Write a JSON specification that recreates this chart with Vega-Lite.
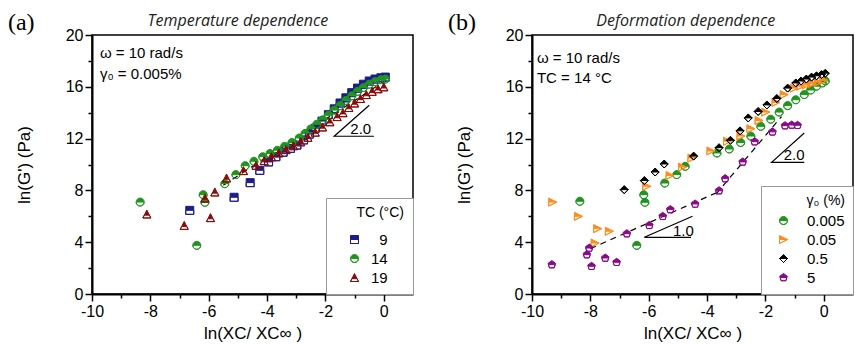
{
  "$schema": "https://vega.github.io/schema/vega-lite/v6.json",
  "padding": {"left": 7, "top": 10, "right": 0, "bottom": 0},
  "background": "white",
  "bounds": "flush",
  "spacing": 119,
  "resolve": {"scale": {"x": "independent", "y": "independent", "fill": "independent", "stroke": "independent", "shape": "independent"}},
  "datasets": {
    "L": [
      {"x": -6.65, "y": 6.46, "s": "9"}, {"x": -5.13, "y": 7.47, "s": "9"}, {"x": -4.58, "y": 8.6, "s": "9"}, {"x": -4.25, "y": 9.55, "s": "9"},
      {"x": -3.95, "y": 10.2, "s": "9"}, {"x": -3.7, "y": 10.6, "s": "9"}, {"x": -3.45, "y": 10.95, "s": "9"}, {"x": -3.2, "y": 11.25, "s": "9"},
      {"x": -2.98, "y": 11.5, "s": "9"}, {"x": -2.75, "y": 11.9, "s": "9"}, {"x": -2.55, "y": 12.35, "s": "9"}, {"x": -2.35, "y": 12.8, "s": "9"},
      {"x": -2.12, "y": 13.35, "s": "9"}, {"x": -1.9, "y": 13.85, "s": "9"}, {"x": -1.7, "y": 14.3, "s": "9"}, {"x": -1.5, "y": 14.75, "s": "9"},
      {"x": -1.3, "y": 15.15, "s": "9"}, {"x": -1.1, "y": 15.55, "s": "9"}, {"x": -0.9, "y": 15.9, "s": "9"}, {"x": -0.7, "y": 16.2, "s": "9"},
      {"x": -0.5, "y": 16.45, "s": "9"}, {"x": -0.3, "y": 16.6, "s": "9"}, {"x": -0.1, "y": 16.7, "s": "9"}, {"x": 0.05, "y": 16.75, "s": "9"},
      {"x": -8.35, "y": 7.1, "s": "14"}, {"x": -6.41, "y": 3.76, "s": "14"}, {"x": -6.19, "y": 7.67, "s": "14"}, {"x": -6.13, "y": 7.08, "s": "14"},
      {"x": -5.45, "y": 8.52, "s": "14"}, {"x": -5.07, "y": 9.22, "s": "14"}, {"x": -4.75, "y": 9.91, "s": "14"}, {"x": -4.45, "y": 10.25, "s": "14"},
      {"x": -4.15, "y": 10.6, "s": "14"}, {"x": -3.9, "y": 10.85, "s": "14"}, {"x": -3.65, "y": 11.1, "s": "14"}, {"x": -3.4, "y": 11.4, "s": "14"},
      {"x": -3.15, "y": 11.7, "s": "14"}, {"x": -2.9, "y": 12.05, "s": "14"}, {"x": -2.7, "y": 12.4, "s": "14"}, {"x": -2.5, "y": 12.75, "s": "14"},
      {"x": -2.3, "y": 13.1, "s": "14"}, {"x": -2.1, "y": 13.45, "s": "14"}, {"x": -1.9, "y": 13.8, "s": "14"}, {"x": -1.7, "y": 14.2, "s": "14"},
      {"x": -1.5, "y": 14.55, "s": "14"}, {"x": -1.3, "y": 14.95, "s": "14"}, {"x": -1.1, "y": 15.3, "s": "14"}, {"x": -0.9, "y": 15.65, "s": "14"},
      {"x": -0.7, "y": 15.95, "s": "14"}, {"x": -0.5, "y": 16.2, "s": "14"}, {"x": -0.3, "y": 16.4, "s": "14"}, {"x": -0.1, "y": 16.55, "s": "14"},
      {"x": 0.05, "y": 16.6, "s": "14"},
      {"x": -8.12, "y": 6.18, "s": "19"}, {"x": -6.84, "y": 5.3, "s": "19"}, {"x": -6.13, "y": 7.41, "s": "19"}, {"x": -5.94, "y": 5.9, "s": "19"},
      {"x": -5.79, "y": 7.88, "s": "19"}, {"x": -5.39, "y": 8.96, "s": "19"}, {"x": -4.81, "y": 9.53, "s": "19"}, {"x": -4.38, "y": 9.94, "s": "19"},
      {"x": -4.1, "y": 10.3, "s": "19"}, {"x": -3.85, "y": 10.6, "s": "19"}, {"x": -3.6, "y": 10.9, "s": "19"}, {"x": -3.35, "y": 11.15, "s": "19"},
      {"x": -3.1, "y": 11.45, "s": "19"}, {"x": -2.85, "y": 11.75, "s": "19"}, {"x": -2.6, "y": 12.1, "s": "19"}, {"x": -2.35, "y": 12.5, "s": "19"},
      {"x": -2.1, "y": 12.9, "s": "19"}, {"x": -1.85, "y": 13.3, "s": "19"}, {"x": -1.6, "y": 13.7, "s": "19"}, {"x": -1.4, "y": 14.0, "s": "19"},
      {"x": -1.2, "y": 14.4, "s": "19"}, {"x": -1.0, "y": 14.75, "s": "19"}, {"x": -0.8, "y": 15.1, "s": "19"}, {"x": -0.6, "y": 15.4, "s": "19"},
      {"x": -0.4, "y": 15.65, "s": "19"}, {"x": -0.2, "y": 15.85, "s": "19"}, {"x": 0.0, "y": 16.0, "s": "19"}
    ],
    "R": [
      {"x": -8.36, "y": 7.16, "s": "0.005"}, {"x": -6.41, "y": 3.76, "s": "0.005"}, {"x": -6.17, "y": 7.67, "s": "0.005"}, {"x": -6.13, "y": 7.08, "s": "0.005"},
      {"x": -5.45, "y": 8.57, "s": "0.005"}, {"x": -5.04, "y": 9.22, "s": "0.005"}, {"x": -4.75, "y": 9.86, "s": "0.005"}, {"x": -3.66, "y": 10.89, "s": "0.005"},
      {"x": -3.24, "y": 11.2, "s": "0.005"}, {"x": -2.85, "y": 11.7, "s": "0.005"}, {"x": -2.5, "y": 12.2, "s": "0.005"}, {"x": -2.16, "y": 12.95, "s": "0.005"},
      {"x": -1.82, "y": 13.5, "s": "0.005"}, {"x": -1.53, "y": 14.05, "s": "0.005"}, {"x": -1.24, "y": 14.55, "s": "0.005"}, {"x": -0.96, "y": 15.0, "s": "0.005"},
      {"x": -0.67, "y": 15.4, "s": "0.005"}, {"x": -0.45, "y": 15.75, "s": "0.005"}, {"x": -0.25, "y": 16.05, "s": "0.005"}, {"x": -0.05, "y": 16.3, "s": "0.005"},
      {"x": 0.05, "y": 16.45, "s": "0.005"},
      {"x": -9.29, "y": 7.1, "s": "0.05"}, {"x": -8.41, "y": 6.0, "s": "0.05"}, {"x": -7.84, "y": 3.94, "s": "0.05"}, {"x": -7.75, "y": 5.05, "s": "0.05"},
      {"x": -7.35, "y": 4.85, "s": "0.05"}, {"x": -6.07, "y": 8.32, "s": "0.05"}, {"x": -5.27, "y": 9.15, "s": "0.05"}, {"x": -4.84, "y": 9.8, "s": "0.05"},
      {"x": -4.52, "y": 10.5, "s": "0.05"}, {"x": -3.87, "y": 11.05, "s": "0.05"}, {"x": -3.3, "y": 11.8, "s": "0.05"}, {"x": -2.84, "y": 12.2, "s": "0.05"},
      {"x": -2.5, "y": 12.77, "s": "0.05"}, {"x": -2.22, "y": 13.4, "s": "0.05"}, {"x": -1.99, "y": 14.05, "s": "0.05"}, {"x": -1.64, "y": 14.8, "s": "0.05"},
      {"x": -1.36, "y": 15.4, "s": "0.05"}, {"x": -1.02, "y": 15.9, "s": "0.05"}, {"x": -0.8, "y": 16.05, "s": "0.05"}, {"x": -0.6, "y": 16.15, "s": "0.05"},
      {"x": -0.4, "y": 16.25, "s": "0.05"}, {"x": -0.2, "y": 16.35, "s": "0.05"}, {"x": 0.0, "y": 16.5, "s": "0.05"},
      {"x": -6.84, "y": 8.06, "s": "0.5"}, {"x": -6.15, "y": 8.76, "s": "0.5"}, {"x": -5.78, "y": 9.42, "s": "0.5"}, {"x": -5.47, "y": 10.04, "s": "0.5"},
      {"x": -4.46, "y": 10.65, "s": "0.5"}, {"x": -3.59, "y": 11.3, "s": "0.5"}, {"x": -3.2, "y": 11.87, "s": "0.5"}, {"x": -2.87, "y": 12.6, "s": "0.5"},
      {"x": -2.59, "y": 13.6, "s": "0.5"}, {"x": -2.25, "y": 14.1, "s": "0.5"}, {"x": -1.95, "y": 14.6, "s": "0.5"}, {"x": -1.61, "y": 15.1, "s": "0.5"},
      {"x": -1.24, "y": 15.9, "s": "0.5"}, {"x": -0.96, "y": 16.3, "s": "0.5"}, {"x": -0.78, "y": 16.45, "s": "0.5"}, {"x": -0.6, "y": 16.6, "s": "0.5"},
      {"x": -0.42, "y": 16.75, "s": "0.5"}, {"x": -0.25, "y": 16.85, "s": "0.5"}, {"x": -0.08, "y": 16.95, "s": "0.5"}, {"x": 0.05, "y": 17.05, "s": "0.5"},
      {"x": -9.32, "y": 2.27, "s": "5"}, {"x": -8.12, "y": 3.04, "s": "5"}, {"x": -8.04, "y": 3.55, "s": "5"}, {"x": -7.96, "y": 2.14, "s": "5"},
      {"x": -7.49, "y": 2.78, "s": "5"}, {"x": -7.1, "y": 2.45, "s": "5"}, {"x": -6.75, "y": 4.66, "s": "5"}, {"x": -5.98, "y": 5.3, "s": "5"},
      {"x": -5.52, "y": 6.0, "s": "5"}, {"x": -5.26, "y": 6.52, "s": "5"}, {"x": -4.41, "y": 6.95, "s": "5"}, {"x": -3.59, "y": 7.98, "s": "5"},
      {"x": -3.38, "y": 8.91, "s": "5"}, {"x": -2.78, "y": 10.2, "s": "5"}, {"x": -2.37, "y": 11.76, "s": "5"}, {"x": -1.76, "y": 12.52, "s": "5"},
      {"x": -1.33, "y": 13.0, "s": "5"}, {"x": -1.1, "y": 13.05, "s": "5"}, {"x": -0.9, "y": 13.03, "s": "5"}
    ]
  },
  "hconcat": [
    {
      "width": 321,
      "height": 259,
      "encoding": {
        "x": {"field": "x", "type": "quantitative", "title": "ln(XC/ XC∞ )",
          "scale": {"domain": [-10, 1], "nice": false, "zero": false},
          "axis": {"values": [-10, -9, -8, -7, -6, -5, -4, -3, -2, -1, 0], "labelExpr": "datum.value % 2 === 0 ? '' + datum.value : ''",
            "tickSize": {"condition": {"test": "datum.value % 2 !== 0", "value": 4}, "value": 7}, "labelPadding": 2, "titlePadding": 6, "labelFlush": false, "labelOverlap": false}},
        "y": {"field": "y", "type": "quantitative", "title": "ln(G') (Pa)",
          "scale": {"domain": [0, 20], "nice": false, "zero": false},
          "axis": {"values": [0, 2, 4, 6, 8, 10, 12, 14, 16, 18, 20], "labelExpr": "datum.value % 4 === 0 ? '' + datum.value : ''",
            "tickSize": {"condition": {"test": "datum.value % 4 !== 0", "value": 4}, "value": 7}, "labelPadding": 2, "titlePadding": 32, "labelFlush": false, "labelOverlap": false}}
      },
      "layer": [
        {
          "data": {"values": [{"x": -5.5, "y": 8.4, "g": 1}, {"x": 0.0, "y": 16.4, "g": 1}]},
          "mark": {"type": "line", "color": "black", "strokeWidth": 1.2, "strokeDash": [6, 5]},
          "encoding": {"detail": {"field": "g"}}
        },
        {
          "data": {"name": "L"},
          "mark": {"type": "point", "filled": true, "size": 64, "opacity": 1, "strokeWidth": 1},
          "encoding": {
            "fill": {"field": "s", "type": "nominal", "scale": {"domain": ["9", "14", "19"], "range": ["#1c1c8a", "#1f951f", "#8b0a0a"]},
              "legend": {"title": "TC (°C)", "titlePadding": 12, "titleAnchor": "end", "symbolOffset": 13, "labelOffset": 9, "labelExpr": "(datum.label == '9' ? '\u200b\u00a0\u00a0' : '') + datum.label + '\u00a0\u00a0\u00a0\u00a0\u200b'"}},
            "stroke": {"field": "s", "type": "nominal", "scale": {"domain": ["9", "14", "19"], "range": ["#1c1c8a", "#1f951f", "#8b0a0a"]},
              "legend": {"title": "TC (°C)", "titlePadding": 12, "titleAnchor": "end", "symbolOffset": 13, "labelOffset": 9, "labelExpr": "(datum.label == '9' ? '\u200b\u00a0\u00a0' : '') + datum.label + '\u00a0\u00a0\u00a0\u00a0\u200b'"}},
            "shape": {"field": "s", "type": "nominal",
              "scale": {"domain": ["9", "14", "19"], "range": [
                "M-1,-1H1V0H-1Z M-1,0V1H1V0V1H-1Z",
                "M-1,0A1,1 0 0 1 1,0Z M-1,0A1,1 0 0 0 1,0A1,1 0 0 1 -1,0Z",
                "M0,-1L0.65,0.3L-0.65,0.3Z M-0.65,0.3L-1,1L1,1L0.65,0.3L1,1L-1,1Z"]},
              "legend": {"title": "TC (°C)", "titlePadding": 12, "titleAnchor": "end", "symbolOffset": 13, "labelOffset": 9, "labelExpr": "(datum.label == '9' ? '\u200b\u00a0\u00a0' : '') + datum.label + '\u00a0\u00a0\u00a0\u00a0\u200b'"}}
          }
        },
        {
          "data": {"values": [{"x": -0.5, "y": 14.57, "o": 1}, {"x": -1.7, "y": 12.18, "o": 2}, {"x": -0.34, "y": 12.18, "o": 3}]},
          "mark": {"type": "line", "color": "black", "strokeWidth": 1.2},
          "encoding": {"order": {"field": "o", "type": "quantitative"}}
        },
        {
          "data": {"values": [{"x": -0.79, "y": 12.75, "t": "2.0"}]},
          "mark": {"type": "text", "font": "Liberation Sans", "fontSize": 15, "color": "black", "align": "center", "baseline": "middle"},
          "encoding": {"text": {"field": "t"}}
        },
        {
          "data": {"values": [{"x": -9.73, "y": 18.6, "t": "ω = 10 rad/s"}, {"x": -9.73, "y": 17.0, "t": "γ₀ = 0.005%"}]},
          "mark": {"type": "text", "font": "Liberation Sans", "fontSize": 15, "color": "black", "align": "left", "baseline": "middle"},
          "encoding": {"text": {"field": "t"}}
        },
        {
          "data": {"values": [{"x": -5.0, "y": 21.08, "t": "Temperature dependence"}]},
          "mark": {"type": "text", "font": "Open Sans", "fontStyle": "italic", "fontSize": 16, "color": "#222", "align": "center", "baseline": "middle"},
          "encoding": {"text": {"field": "t"}}
        },
        {
          "data": {"values": [{"x": -12.88, "y": 21.85, "t": "(a)"}]},
          "mark": {"type": "text", "font": "Liberation Serif", "fontSize": 24, "color": "black", "align": "left", "baseline": "top"},
          "encoding": {"text": {"field": "t"}}
        }
      ]
    },
    {
      "width": 321,
      "height": 259,
      "encoding": {
        "x": {"field": "x", "type": "quantitative", "title": "ln(XC/ XC∞ )",
          "scale": {"domain": [-10, 1], "nice": false, "zero": false},
          "axis": {"values": [-10, -9, -8, -7, -6, -5, -4, -3, -2, -1, 0], "labelExpr": "datum.value % 2 === 0 ? '' + datum.value : ''",
            "tickSize": {"condition": {"test": "datum.value % 2 !== 0", "value": 4}, "value": 7}, "labelPadding": 2, "titlePadding": 6, "labelFlush": false, "labelOverlap": false}},
        "y": {"field": "y", "type": "quantitative", "title": "ln(G') (Pa)",
          "scale": {"domain": [0, 20], "nice": false, "zero": false},
          "axis": {"values": [0, 2, 4, 6, 8, 10, 12, 14, 16, 18, 20], "labelExpr": "datum.value % 4 === 0 ? '' + datum.value : ''",
            "tickSize": {"condition": {"test": "datum.value % 4 !== 0", "value": 4}, "value": 7}, "labelPadding": 2, "titlePadding": 32, "labelFlush": false, "labelOverlap": false}}
      },
      "layer": [
        {
          "data": {"values": [{"x": -8.0, "y": 3.5, "g": 1}, {"x": -3.6, "y": 7.9, "g": 1}, {"x": -3.7, "y": 7.7, "g": 2}, {"x": -1.45, "y": 13.7, "g": 2}]},
          "mark": {"type": "line", "color": "black", "strokeWidth": 1.2, "strokeDash": [6, 5]},
          "encoding": {"detail": {"field": "g"}}
        },
        {
          "data": {"name": "R"},
          "mark": {"type": "point", "filled": true, "size": 64, "opacity": 1, "strokeWidth": 1},
          "encoding": {
            "fill": {"field": "s", "type": "nominal", "scale": {"domain": ["0.005", "0.05", "0.5", "5"], "range": ["#1f951f", "#ff8c1a", "#000000", "#8a0a8a"]},
              "legend": {"title": "γ₀ (%)", "titlePadding": 5, "titleAnchor": "end", "labelOffset": 16}},
            "stroke": {"field": "s", "type": "nominal", "scale": {"domain": ["0.005", "0.05", "0.5", "5"], "range": ["#1f951f", "#ff8c1a", "#000000", "#8a0a8a"]},
              "legend": {"title": "γ₀ (%)", "titlePadding": 5, "titleAnchor": "end", "labelOffset": 16}},
            "shape": {"field": "s", "type": "nominal",
              "scale": {"domain": ["0.005", "0.05", "0.5", "5"], "range": [
                "M-1,0A1,1 0 0 1 1,0Z M-1,0A1,1 0 0 0 1,0A1,1 0 0 1 -1,0Z",
                "M-1,-1L1,0L-1,0Z M-1,0L-1,1L1,0L-1,1Z",
                "M0,-1L1,0L-1,0Z M-1,0L0,1L1,0L0,1Z",
                "M0,-1L0.95,-0.31L0.85,0L-0.85,0L-0.95,-0.31Z M-0.85,0L-0.59,0.81L0.59,0.81L0.85,0L0.59,0.81L-0.59,0.81Z"]},
              "legend": {"title": "γ₀ (%)", "titlePadding": 5, "titleAnchor": "end", "labelOffset": 16}}
          }
        },
        {
          "data": {"values": [{"x": -0.67, "y": 12.43, "o": 1, "g": 1}, {"x": -1.79, "y": 10.17, "o": 2, "g": 1}, {"x": -0.67, "y": 10.17, "o": 3, "g": 1},
                              {"x": -4.5, "y": 6.0, "o": 1, "g": 2}, {"x": -6.15, "y": 4.38, "o": 2, "g": 2}, {"x": -4.55, "y": 4.38, "o": 3, "g": 2}]},
          "mark": {"type": "line", "color": "black", "strokeWidth": 1.2},
          "encoding": {"order": {"field": "o", "type": "quantitative"}, "detail": {"field": "g"}}
        },
        {
          "data": {"values": [{"x": -1.02, "y": 10.76, "t": "2.0"}, {"x": -4.81, "y": 4.84, "t": "1.0"}]},
          "mark": {"type": "text", "font": "Liberation Sans", "fontSize": 15, "color": "black", "align": "center", "baseline": "middle"},
          "encoding": {"text": {"field": "t"}}
        },
        {
          "data": {"values": [{"x": -9.83, "y": 18.22, "t": "ω = 10 rad/s"}, {"x": -9.83, "y": 16.68, "t": "TC = 14 °C"}]},
          "mark": {"type": "text", "font": "Liberation Sans", "fontSize": 15, "color": "black", "align": "left", "baseline": "middle"},
          "encoding": {"text": {"field": "t"}}
        },
        {
          "data": {"values": [{"x": -4.73, "y": 21.08, "t": "Deformation dependence"}]},
          "mark": {"type": "text", "font": "Open Sans", "fontStyle": "italic", "fontSize": 16, "color": "#222", "align": "center", "baseline": "middle"},
          "encoding": {"text": {"field": "t"}}
        },
        {
          "data": {"values": [{"x": -12.88, "y": 21.85, "t": "(b)"}]},
          "mark": {"type": "text", "font": "Liberation Serif", "fontSize": 24, "color": "black", "align": "left", "baseline": "top"},
          "encoding": {"text": {"field": "t"}}
        }
      ]
    }
  ],
  "config": {
    "view": {"stroke": "black", "strokeWidth": 1.5},
    "axis": {"grid": false, "domainColor": "black", "domainWidth": 2, "tickColor": "black", "tickWidth": 1.5,
      "labelFont": "Liberation Sans", "labelFontSize": 16, "labelColor": "black",
      "titleFont": "Liberation Sans", "titleFontSize": 17, "titleFontWeight": "normal", "titleColor": "black"},
    "legend": {"orient": "bottom-right", "offset": 0, "padding": 8, "strokeColor": "#999", "fillColor": "white", "cornerRadius": 0,
      "titleFont": "Liberation Sans", "titleFontSize": 14, "titleFontWeight": "normal", "titleColor": "black",
      "labelFont": "Liberation Sans", "labelFontSize": 15, "labelColor": "black",
      "symbolSize": 64, "symbolStrokeWidth": 1, "symbolOpacity": 1, "rowPadding": 3, "symbolOffset": 7}
  }
}
